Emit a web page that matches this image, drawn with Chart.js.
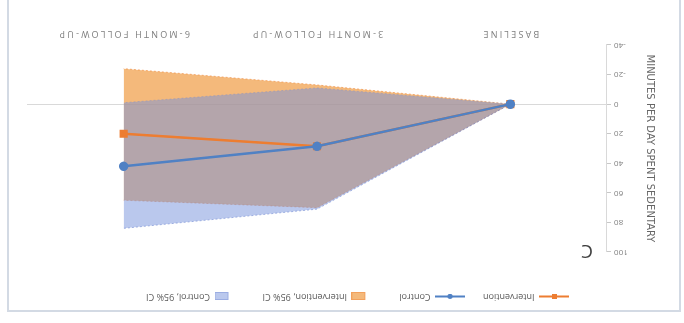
<!DOCTYPE html>
<html>
<head>
<meta charset="utf-8">
<script src="https://cdn.jsdelivr.net/npm/chart.js@4.4.1/dist/chart.umd.min.js"></script>
<style>
  html, body { margin: 0; padding: 0; background: #fff; overflow: hidden; }
  /* the reference picture is upside down, so the whole chart is turned round */
  #wrap { position: relative; width: 684px; height: 323px; transform: rotate(180deg); overflow: hidden; }
  #frame { position: absolute; left: 3px; top: 11px; width: 670px; height: 330px; border: 2px solid #d3dae4; }
  #chart { position: absolute; left: 0; top: 0; }
</style>
</head>
<body>
<div id="wrap">
  <div id="frame"></div>
  <canvas id="chart" width="684" height="323"></canvas>
</div>
<script>
const categories = ['BASELINE', '3-MONTH FOLLOW-UP', '6-MONTH FOLLOW-UP'];
const intervention = [0, 28.5, 20];
const control = [0, 28.5, 42];
const interventionCiHigh = [0, 70, 65];
const interventionCiLow = [0, -13, -24];
const controlCiHigh = [0, 71, 84];
const controlCiLow = [0, -11, -1];
const yTicks = [-40, -20, 0, 20, 40, 60, 80, 100];
const yTitle = 'MINUTES PER DAY SPENT SEDENTARY';
const panelLabel = 'C';

const orange = '#ED7D31';
const blue = '#5081C4';
const orangeFill = 'rgba(238,148,52,0.65)';
const blueFill = 'rgba(118,146,220,0.5)';

// small pictures for the legend: line with marker, or shaded box
function lineSwatch(color, marker) {
    const c = document.createElement('canvas');
    c.width = 30; c.height = 9;
    const g = c.getContext('2d');
    g.strokeStyle = color;
    g.lineWidth = 2;
    g.beginPath(); g.moveTo(0, 4.5); g.lineTo(30, 4.5); g.stroke();
    g.fillStyle = color;
    if (marker === 'rect') {
        g.fillRect(12, 2, 5, 5);
    } else {
        g.beginPath(); g.arc(15, 4.5, 2.6, 0, Math.PI * 2); g.fill();
    }
    return c;
}

function boxSwatch(fill, edge) {
    const c = document.createElement('canvas');
    c.width = 30; c.height = 9;
    const g = c.getContext('2d');
    g.fillStyle = fill;
    g.fillRect(16, 1, 14, 8);
    g.strokeStyle = edge;
    g.setLineDash([1, 1]);
    g.strokeRect(16.5, 1.5, 13, 7);
    return c;
}

const ctx = document.getElementById('chart').getContext('2d');

const chart = new Chart(ctx, {
    type: 'line',
    data: {
        labels: categories,
        datasets: [
            {
                label: 'Control',
                data: control,
                borderColor: blue,
                backgroundColor: blue,
                borderWidth: 2.5,
                pointStyle: 'circle',
                pointRadius: 3.5,
                fill: false
            },
            {
                label: 'Intervention',
                data: intervention,
                borderColor: orange,
                backgroundColor: orange,
                borderWidth: 2.5,
                pointStyle: 'rect',
                pointRadius: 4,
                fill: false
            },
            {
                label: 'Control, 95% CI',
                data: controlCiHigh,
                borderColor: 'rgba(110,135,210,0.6)',
                backgroundColor: blueFill,
                borderWidth: 1,
                borderDash: [2, 2],
                pointRadius: 0,
                fill: '+1'
            },
            {
                label: 'control-low',
                data: controlCiLow,
                borderColor: 'rgba(110,135,210,0.4)',
                borderWidth: 1,
                borderDash: [2, 2],
                pointRadius: 0,
                fill: false
            },
            {
                label: 'Intervention, 95% CI',
                data: interventionCiHigh,
                borderColor: 'rgba(237,125,49,0.5)',
                backgroundColor: orangeFill,
                borderWidth: 1,
                borderDash: [2, 2],
                pointRadius: 0,
                fill: '+1'
            },
            {
                label: 'intervention-low',
                data: interventionCiLow,
                borderColor: 'rgba(237,125,49,0.6)',
                borderWidth: 1,
                borderDash: [2, 2],
                pointRadius: 0,
                fill: false
            }
        ]
    },
    options: {
        responsive: false,
        animation: false,
        layout: { padding: { left: 24, right: 27, top: 4, bottom: 0 } },
        plugins: {
            tooltip: { enabled: false },
            legend: {
                position: 'top',
                labels: {
                    usePointStyle: true,
                    pointStyleWidth: 30,
                    padding: 18,
                    color: '#595959',
                    font: { family: 'Open Sans', size: 9 },
                    generateLabels: (chart) => {
                        const ds = chart.data.datasets;
                        const item = (i, style) => ({
                            text: ds[i].label,
                            pointStyle: style,
                            fontColor: '#595959',
                            lineWidth: 0,
                            strokeStyle: 'transparent',
                            fillStyle: 'transparent',
                            datasetIndex: i
                        });
                        return [
                            item(1, lineSwatch(orange, 'rect')),
                            item(0, lineSwatch(blue, 'circle')),
                            item(4, boxSwatch(orangeFill, 'rgba(237,125,49,0.8)')),
                            item(2, boxSwatch(blueFill, 'rgba(110,135,210,0.8)'))
                        ];
                    }
                }
            }
        },
        scales: {
            x: {
                offset: true,
                grid: { display: false, drawTicks: false },
                border: { display: false },
                ticks: {
                    color: '#7f7f7f',
                    padding: 6,
                    maxRotation: 0,
                    font: { family: 'Open Sans', size: 9 }
                },
                afterFit: (scale) => { scale.height = 45; }
            },
            y: {
                min: yTicks[0],
                max: yTicks[yTicks.length - 1],
                afterBuildTicks: (scale) => { scale.ticks = yTicks.map(v => ({ value: v })); },
                afterFit: (scale) => { scale.width = 53; },
                grid: {
                    color: (c) => (c.tick && c.tick.value === 0 ? '#d9d9d9' : 'rgba(0,0,0,0)'),
                    tickColor: '#c8c8c8',
                    tickLength: 4
                },
                border: { display: true, color: '#d9d9d9' },
                ticks: {
                    color: '#7f7f7f',
                    padding: 3,
                    font: { family: 'Open Sans', size: 8 }
                },
                title: {
                    display: true,
                    text: yTitle,
                    color: '#666666',
                    padding: { top: 4, bottom: 4 },
                    font: { family: 'DejaVu Sans', size: 10 }
                }
            }
        }
    },
    plugins: [
        {
            id: 'legendGap',
            beforeInit(chart) {
                const lg = chart.legend;
                const fit = lg.fit;
                lg.fit = function () {
                    fit.call(this);
                    this.height += 30;
                };
                const draw = lg.draw;
                lg.draw = function () {
                    this.ctx.save();
                    this.ctx.translate(-14, 0);
                    draw.call(this);
                    this.ctx.restore();
                };
            }
        },
        {
            id: 'spacedCategories',
            beforeDraw(chart) {
                // the category names are letter spaced in the original
                const xs = chart.scales.x;
                if (xs._spaced) return;
                const orig = xs.drawLabels;
                xs.drawLabels = function (area) {
                    this.ctx.save();
                    this.ctx.letterSpacing = '2.2px';
                    orig.call(this, area);
                    this.ctx.restore();
                };
                xs._spaced = true;
            }
        },
        {
            id: 'panelLabel',
            afterDraw(chart) {
                const { ctx, chartArea } = chart;
                ctx.save();
                ctx.font = '19px "Open Sans"';
                ctx.fillStyle = '#404040';
                ctx.textAlign = 'center';
                ctx.textBaseline = 'middle';
                ctx.fillText(panelLabel, chartArea.left + 20, chartArea.top + 2);
                ctx.restore();
            }
        }
    ]
});
</script>
</body>
</html>
